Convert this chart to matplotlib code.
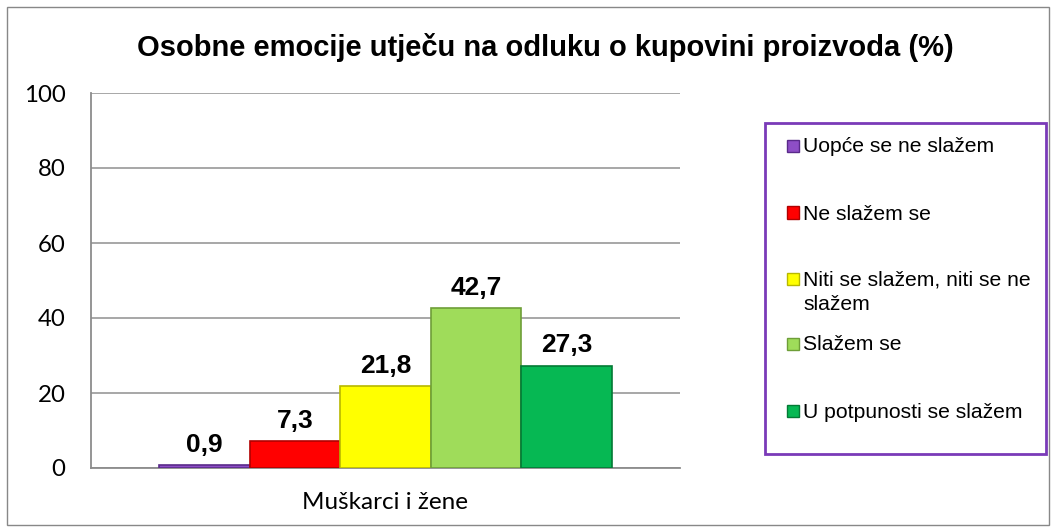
import matplotlib.pyplot as plt
from matplotlib.patches import Rectangle

categories = ["Muškarci i žene"]
series = ["Uopće se ne slažem", "Ne slažem se", "Niti se slažem, niti se ne\nslažem",
          "Slažem se", "U potpunosti se slažem"]
values = [0.9, 7.3, 21.8, 42.7, 27.3]
colors = ["#8E4EC6", "#FF0000", "#FFFF00", "#9FDC5A", "#06B853"]
edges = ["#5A2A8A", "#B00000", "#B8B800", "#6E9E38", "#037A35"]

W, H = 1056, 532
fig = plt.figure(figsize=(W / 100, H / 100), dpi=100)

# outer chart border
fig.patches.append(Rectangle((7 / W, 7 / H), 1042 / W, 518 / H, transform=fig.transFigure,
                             fill=False, edgecolor="#888888", lw=1))

ax = fig.add_axes([91 / W, 1 - 468 / H, 589 / W, 375 / H])
bw = 0.1537
for i, (v, c, e) in enumerate(zip(values, colors, edges)):
    x = 0.5 + (i - 2) * bw
    ax.bar(x, v, width=bw, color=c, edgecolor=e, lw=1.2, zorder=3)
    ax.text(x, v + 3.5, f"{v:.1f}".replace(".", ","), ha="center", va="baseline",
            fontsize=19, fontweight="bold", family="Liberation Sans", zorder=4)

ax.set_xlim(0, 1)
ax.set_ylim(0, 100)
ax.set_yticks(range(0, 101, 20))
ax.set_xticks([0.5])
ax.set_xticklabels(categories, family="Lato", fontsize=17.5)
for t in ax.get_yticklabels():
    t.set_family("Lato")
    t.set_fontsize(17.3)
ax.tick_params(length=0)
ax.tick_params(axis="y", pad=18.5)
ax.tick_params(axis="x", pad=17)
ax.grid(axis="y", color="#A0A0A0", lw=1.3, zorder=0)
for s in ["top", "right"]:
    ax.spines[s].set_visible(False)
for s in ["left", "bottom"]:
    ax.spines[s].set_color("#8C8C8C")
    ax.spines[s].set_linewidth(1.3)

fig.text(545 / W, 1 - 47 / H, "Osobne emocije utječu na odluku o kupovini proizvoda (%)",
         ha="center", va="center", fontsize=21, fontweight="bold", family="Liberation Sans")

# legend box
fig.patches.append(Rectangle((765 / W, 1 - 454 / H), 281 / W, 331 / H, transform=fig.transFigure,
                             fill=False, edgecolor="#7A3AB8", lw=2))
leg_y = [145, 212, 278, 343, 410]
for lab, c, e, y in zip(series, colors, edges, leg_y):
    fig.patches.append(Rectangle((787 / W, 1 - (y + 6.5) / H), 12 / W, 12 / H,
                                 transform=fig.transFigure, facecolor=c, edgecolor=e, lw=1))
    for k, line in enumerate(lab.split("\n")):
        fig.text(803 / W, 1 - (y + 7.5 + 25 * k) / H, line, ha="left", va="baseline",
                 fontsize=15.2, family="Liberation Sans")

fig.savefig("out.png", dpi=100)
